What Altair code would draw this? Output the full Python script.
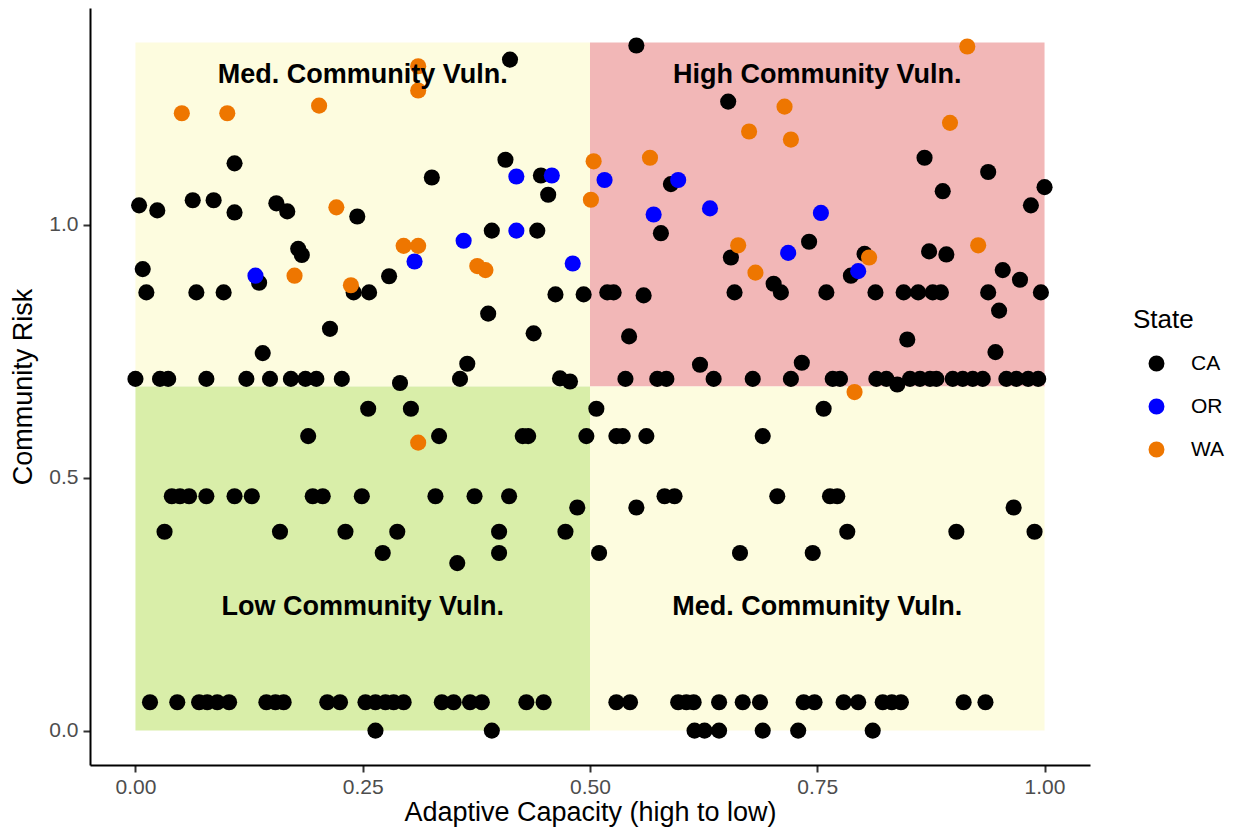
import altair as alt
import pandas as pd

# ---- data ----
ca_x = [0.412, 0.551, 0.652, 0.109, 0.407, 0.004, 0.024, 0.063, 0.086, 0.109, 0.155, 0.167, 0.244,
        0.326, 0.446, 0.454, 0.179, 0.183, 0.008, 0.136, 0.240, 0.012, 0.067, 0.097, 0.257, 0.279,
        0.392, 0.442, 0.462, 0.493, 0.388, 0.438, 0.214, 0.140, 0.365, 0.291, 0.467, 0.478,
        # 0.70 row
        0.000, 0.027, 0.036, 0.078, 0.122, 0.148, 0.171, 0.187, 0.199, 0.227, 0.357, 0.539, 0.574,
        0.584, 0.636, 0.679, 0.721, 0.767, 0.775, 0.815, 0.826, 0.852, 0.863, 0.874, 0.881, 0.899,
        0.910, 0.921, 0.932, 0.958, 0.969, 0.982, 0.993, 0.838, 0.621, 0.733,
        # upper right
        0.589, 0.578, 0.655, 0.741, 0.702, 0.710, 0.519, 0.526, 0.559, 0.659, 0.760, 0.543, 0.868,
        0.938, 0.888, 1.000, 0.985, 0.802, 0.787, 0.873, 0.892, 0.954, 0.973, 0.814, 0.845, 0.861,
        0.877, 0.886, 0.938, 0.996, 0.950, 0.849, 0.946,
        # lower half
        0.256, 0.303, 0.507, 0.757,
        0.190, 0.334, 0.426, 0.432, 0.496, 0.529, 0.536, 0.562, 0.690,
        0.040, 0.049, 0.059, 0.078, 0.109, 0.128, 0.195, 0.206, 0.249, 0.330, 0.373, 0.411, 0.582,
        0.593, 0.706, 0.764, 0.772,
        0.486, 0.551, 0.966,
        0.032, 0.159, 0.231, 0.288, 0.400, 0.473, 0.783, 0.903, 0.989,
        0.272, 0.400, 0.510, 0.665, 0.745,
        0.354,
        0.016, 0.046, 0.070, 0.079, 0.090, 0.103, 0.144, 0.154, 0.163, 0.211, 0.225, 0.253, 0.264,
        0.275, 0.284, 0.295, 0.337, 0.350, 0.368, 0.381, 0.430, 0.449, 0.529, 0.544, 0.597, 0.606,
        0.614, 0.642, 0.668, 0.687, 0.735, 0.747, 0.779, 0.795, 0.822, 0.832, 0.842, 0.911, 0.935,
        0.264, 0.392, 0.615, 0.626, 0.642, 0.690, 0.729, 0.811]
ca_y = [1.326, 1.354, 1.243, 1.121, 1.128, 1.038, 1.028, 1.048, 1.048, 1.024, 1.042, 1.026, 1.016,
        1.093, 1.097, 1.059, 0.952, 0.940, 0.912, 0.885, 0.866, 0.866, 0.866, 0.866, 0.866, 0.898,
        0.988, 0.988, 0.862, 0.862, 0.824, 0.785, 0.794, 0.746, 0.725, 0.687, 0.696, 0.690,
        0.695, 0.695, 0.695, 0.695, 0.695, 0.695, 0.695, 0.695, 0.695, 0.695, 0.695, 0.695, 0.695,
        0.695, 0.695, 0.695, 0.695, 0.695, 0.695, 0.695, 0.695, 0.695, 0.695, 0.695, 0.695, 0.695,
        0.695, 0.695, 0.695, 0.695, 0.695, 0.695, 0.695, 0.684, 0.723, 0.727,
        1.080, 0.983, 0.935, 0.966, 0.883, 0.866, 0.866, 0.866, 0.860, 0.866, 0.866, 0.779, 1.132,
        1.104, 1.066, 1.074, 1.038, 0.942, 0.899, 0.947, 0.941, 0.910, 0.891, 0.866, 0.866, 0.866,
        0.866, 0.866, 0.866, 0.866, 0.830, 0.773, 0.748,
        0.636, 0.636, 0.636, 0.636,
        0.582, 0.582, 0.582, 0.582, 0.582, 0.582, 0.582, 0.582, 0.582,
        0.463, 0.463, 0.463, 0.463, 0.463, 0.463, 0.463, 0.463, 0.463, 0.463, 0.463, 0.463, 0.463,
        0.463, 0.463, 0.463, 0.463,
        0.441, 0.441, 0.441,
        0.393, 0.393, 0.393, 0.393, 0.393, 0.393, 0.393, 0.393, 0.393,
        0.351, 0.351, 0.351, 0.351, 0.351,
        0.331,
        0.056, 0.056, 0.056, 0.056, 0.056, 0.056, 0.056, 0.056, 0.056, 0.056, 0.056, 0.056, 0.056,
        0.056, 0.056, 0.056, 0.056, 0.056, 0.056, 0.056, 0.056, 0.056, 0.056, 0.056, 0.056, 0.056,
        0.056, 0.056, 0.056, 0.056, 0.056, 0.056, 0.056, 0.056, 0.056, 0.056, 0.056, 0.056, 0.056,
        0.0, 0.0, 0.0, 0.0, 0.0, 0.0, 0.0, 0.0]

or_x = [0.132, 0.307, 0.361, 0.419, 0.419, 0.458, 0.481, 0.516, 0.597, 0.570, 0.632, 0.754, 0.718, 0.795]
or_y = [0.899, 0.927, 0.968, 1.095, 0.988, 1.097, 0.923, 1.088, 1.088, 1.020, 1.032, 1.023, 0.944, 0.908]

wa_x = [0.051, 0.101, 0.202, 0.311, 0.311, 0.221, 0.175, 0.237, 0.295, 0.311, 0.376, 0.385, 0.504,
        0.501, 0.566, 0.675, 0.714, 0.721, 0.663, 0.682, 0.807, 0.915, 0.896, 0.927, 0.791, 0.311]
wa_y = [1.220, 1.220, 1.235, 1.313, 1.265, 1.034, 0.899, 0.880, 0.958, 0.958, 0.918, 0.910, 1.125,
        1.049, 1.132, 1.184, 1.233, 1.168, 0.959, 0.905, 0.935, 1.352, 1.201, 0.959, 0.669, 0.569]

states = ["CA", "OR", "WA"]
state_colors = ["#000000", "#0000FF", "#EE7600"]

zone_x = [0.0, 0.5, 0.0, 0.5]
zone_x2 = [0.5, 1.0, 0.5, 1.0]
zone_y = [0.68, 0.68, 0.0, 0.0]
zone_y2 = [1.36, 1.36, 0.68, 0.68]
zone_fill = ["#FDFCDF", "#F2B7B7", "#D9EEA9", "#FDFCDF"]

label_text = ["Med. Community Vuln.", "High Community Vuln.", "Low Community Vuln.", "Med. Community Vuln."]
label_x = [0.25, 0.75, 0.25, 0.75]
label_y = [1.295, 1.295, 0.245, 0.245]

# ---- tables ----
pts = pd.DataFrame({
    "x": ca_x + or_x + wa_x,
    "y": ca_y + or_y + wa_y,
    "State": ["CA"] * len(ca_x) + ["OR"] * len(or_x) + ["WA"] * len(wa_x),
})
zones = pd.DataFrame({"x": zone_x, "x2": zone_x2, "y": zone_y, "y2": zone_y2, "fill": zone_fill})
labels = pd.DataFrame({"t": label_text, "x": label_x, "y": label_y})

FONT = "Liberation Sans"
xs = alt.Scale(domain=[-0.05, 1.05], nice=False, zero=False)
ys = alt.Scale(domain=[-0.068, 1.428], nice=False, zero=False)

xax = alt.Axis(values=[0, 0.25, 0.5, 0.75, 1.0], format=".2f", title="Adaptive Capacity (high to low)",
               titlePadding=2, labelPadding=4)
yax = alt.Axis(values=[0, 0.5, 1.0], format=".1f", title="Community Risk", titlePadding=11)

rects = alt.Chart(zones).mark_rect(opacity=1).encode(
    x=alt.X("x:Q", scale=xs, axis=xax),
    x2="x2:Q",
    y=alt.Y("y:Q", scale=ys, axis=yax),
    y2="y2:Q",
    color=alt.Color("fill:N", scale=None),
)

points = alt.Chart(pts).mark_circle(size=260, opacity=1).encode(
    x=alt.X("x:Q", scale=xs),
    y=alt.Y("y:Q", scale=ys),
    color=alt.Color("State:N", scale=alt.Scale(domain=states, range=state_colors),
                    legend=alt.Legend(title="State", orient="none", legendX=1043, legendY=299,
                                      symbolOffset=13, labelOffset=24, rowPadding=21,
                                      titlePadding=20, symbolSize=254, symbolType="circle")),
    order=alt.Order("State:N"),
)

texts = alt.Chart(labels).mark_text(fontSize=27, fontWeight="bold", font=FONT, color="black").encode(
    x=alt.X("x:Q", scale=xs),
    y=alt.Y("y:Q", scale=ys),
    text="t:N",
)

chart = alt.layer(rects, points, texts).properties(
    width=1000, height=757,
    autosize=alt.AutoSizeParams(type="none"),
    padding={"left": 82, "top": 0, "right": 142, "bottom": 64},
).configure_view(stroke=None).configure_axis(
    grid=False, domainColor="black", domainWidth=2, tickColor="#333333", tickWidth=2, tickSize=7,
    labelPadding=5, labelFont=FONT, labelFontSize=21, labelColor="#4D4D4D",
    titleFont=FONT, titleFontSize=27, titleFontWeight="normal", titleColor="black",
).configure_legend(
    titleFont=FONT, titleFontSize=26, titleFontWeight="normal", titleColor="black",
    labelFont=FONT, labelFontSize=21, labelColor="black",
)

chart.save("out.html", embed_options={"renderer": "svg", "actions": False})
